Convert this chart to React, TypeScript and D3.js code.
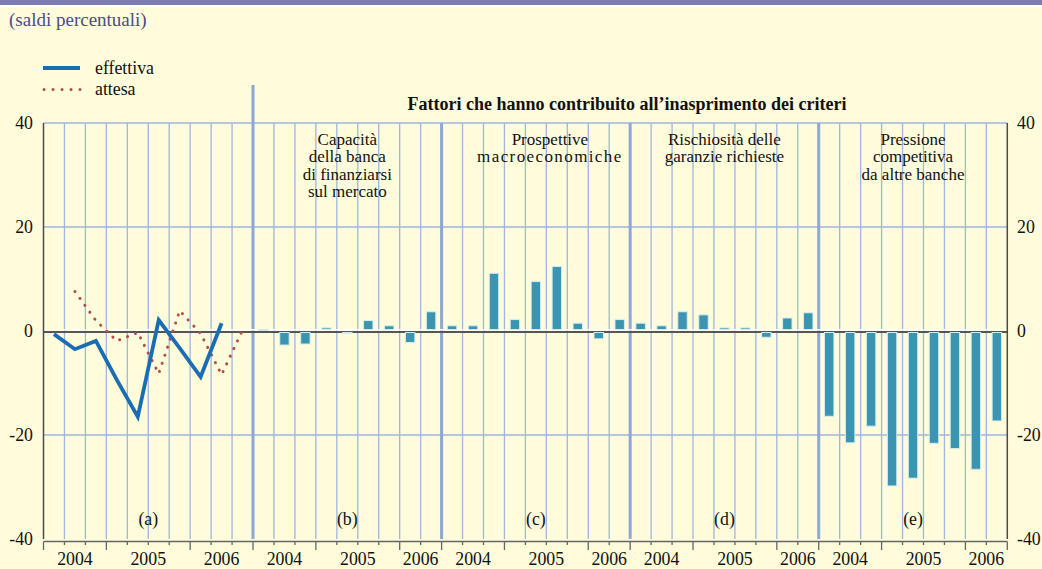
import React from 'react';
import * as d3 from 'd3';

// ---- data ----
const quartersA = ['2004-Q2', '2004-Q3', '2004-Q4', '2005-Q1', '2005-Q2', '2005-Q3', '2005-Q4', '2006-Q1', '2006-Q2', '2006-Q3'];
const quartersB = quartersA.slice(0, 9);
const effettiva = [-0.6, -3.5, -1.9, -9.4, -16.5, 2.1, -3.3, -8.8, 1.5]; // 2004-Q2 .. 2006-Q2
const attesa = [7.6, 2.0, -1.9, -0.3, -8.2, 3.9, -0.5, -8.4, 0.2]; // 2004-Q3 .. 2006-Q3
const capacita = [0.3, -2.7, -2.5, 0.6, -0.3, 2.0, 1.0, -2.2, 3.7];
const prospettive = [1.0, 1.0, 11.1, 2.2, 9.5, 12.4, 1.5, -1.5, 2.2];
const rischiosita = [1.5, 1.0, 3.7, 3.1, 0.6, 0.6, -1.2, 2.5, 3.5];
const pressione = [-16.4, -21.5, -18.3, -29.8, -28.3, -21.6, -22.6, -26.6, -17.3];
const yTicks = [40, 20, 0, -20, -40];
const panelTags = ['(a)', '(b)', '(c)', '(d)', '(e)'];
const panelTitles: string[][] = [
  [],
  ['Capacità', 'della banca', 'di finanziarsi', 'sul mercato'],
  ['Prospettive', 'macroeconomiche'],
  ['Rischiosità delle', 'garanzie richieste'],
  ['Pressione', 'competitiva', 'da altre banche'],
];
const barSeries = [capacita, prospettive, rischiosita, pressione];
const titleText = 'Fattori che hanno contribuito all\u2019inasprimento dei criteri';
const subtitle = '(saldi percentuali)';
const legendLabels = ['effettiva', 'attesa'];

// ---- styles ----
const W = 1042, H = 569;
const BG = '#fffcdb';
const GRID = '#9fb6de';
const SEP = '#8ea7d5';
const AXIS = '#4a4a4a';
const BAR = '#3c95b0';
const LINE = '#1a6db3';
const DOT = '#b24e48';
const FONT = '"Liberation Serif", "Times New Roman", serif';
const FS = 17.8;
const FS_PANEL = 17;
const wideLine = 'macroeconomiche';

const panelQuarters = [quartersA, quartersB, quartersB, quartersB, quartersB];
const panelStart: number[] = [];
{
  let acc = 0;
  panelQuarters.forEach((q) => { panelStart.push(acc); acc += q.length; });
}
const totalSlots = d3.sum(panelQuarters, (q) => q.length);

export default function App() {
  const x = d3.scaleLinear().domain([0, totalSlots]).range([43.5, 1007.3]);
  const y = d3.scaleLinear().domain([-40, 40]).range([539, 123]);
  const slotW = x(1) - x(0);
  const barW = slotW * 0.45;
  const cx = (i: number) => x(i + 0.5);

  const lineGen = d3.line<[number, number]>().x((d) => d[0]).y((d) => d[1]);
  const effPts: [number, number][] = effettiva.map((v, i) => [cx(i), y(v)]);
  const attPts: [number, number][] = attesa.map((v, i) => [cx(i + 1), y(v)]);

  const yearGroups = panelQuarters.map((qs, p) => {
    const groups = d3.groups(qs.map((q, i) => ({ q, i })), (d) => d.q.slice(0, 4));
    return groups.map(([yr, items]) => ({
      yr,
      s: panelStart[p] + items[0].i,
      e: panelStart[p] + items[items.length - 1].i + 1,
    }));
  });

  const y0 = y(0);

  return (
    <svg width={W} height={H} style={{ position: 'absolute', left: 0, top: 0, display: 'block' }} fontFamily={FONT}>
      <rect x={0} y={0} width={W} height={H} fill={BG} />
      <rect x={0} y={0} width={W} height={5} fill="#7d7db5" />
      <rect x={0} y={5} width={W} height={2} fill="#ffffff" />

      <text x={9} y={26} fontSize={19} fill="#4b4b8c">{subtitle}</text>

      {/* legend */}
      <line x1={43} x2={80} y1={68} y2={68} stroke={LINE} strokeWidth={3.8} />
      <text x={95} y={74} fontSize={FS} fill="#111">{legendLabels[0]}</text>
      <line x1={44} x2={80} y1={89.5} y2={89.5} stroke={DOT} strokeWidth={3} strokeLinecap="round" strokeDasharray="0.1 8.9" />
      <text x={95} y={94.5} fontSize={FS} fill="#111">{legendLabels[1]}</text>

      {/* title */}
      <text x={627} y={110} fontSize={18} fontWeight="bold" textAnchor="middle" fill="#111">{titleText}</text>

      {/* horizontal gridlines */}
      {yTicks.filter((t) => t !== 0 && t !== -40).map((t) => (
        <line key={t} x1={x(0)} x2={x(totalSlots)} y1={y(t)} y2={y(t)} stroke={GRID} strokeWidth={1.3} />
      ))}

      {/* vertical gridlines */}
      {d3.range(1, totalSlots).filter((i) => !panelStart.includes(i)).map((i) => (
        <line key={i} x1={x(i)} x2={x(i)} y1={y(40)} y2={y(-40)} stroke={GRID} strokeWidth={1.3} />
      ))}
      {panelStart.slice(1).map((s, k) => (
        <line key={'sep' + s} x1={x(s)} x2={x(s)} y1={k === 0 ? 85 : y(40)} y2={y(-40)} stroke={SEP} strokeWidth={3} />
      ))}

      {/* panel titles */}
      {panelTitles.map((lines, p) => {
        const pc = (x(panelStart[p]) + x(panelStart[p] + panelQuarters[p].length)) / 2 + (p === 2 ? 14 : 0);
        return lines.map((l, j) => (
          <text key={p + '-' + j} x={pc} y={145 + j * 17.3} fontSize={FS_PANEL} textAnchor="middle" fill="#111"
            letterSpacing={l === wideLine ? 1.4 : 0}>{l}</text>
        ));
      })}

      {/* panel tags */}
      {panelTags.map((t, p) => {
        const pc = (x(panelStart[p]) + x(panelStart[p] + panelQuarters[p].length)) / 2;
        return <text key={t} x={pc} y={525} fontSize={FS} textAnchor="middle" fill="#111">{t}</text>;
      })}

      {/* zero line */}
      <line x1={x(0)} x2={x(totalSlots)} y1={y0 - 1.2} y2={y0 - 1.2} stroke="#ffffff" strokeWidth={1.6} />
      <line x1={x(0)} x2={x(totalSlots)} y1={y0 + 1} y2={y0 + 1} stroke="#555" strokeWidth={1.8} />

      {/* bars */}
      {barSeries.map((series, k) => series.map((v, i) => {
        const slot = panelStart[k + 1] + i;
        const top = v >= 0 ? y(v) : y0 + 1.5;
        const h = v >= 0 ? y0 - 1.5 - y(v) : y(v) - (y0 + 1.5);
        return (
          <rect key={k + '-' + i} x={cx(slot) - barW / 2} y={top} width={barW} height={Math.max(h, 1)}
            fill={BAR} stroke="#d5ecef" strokeWidth={1} />
        );
      }))}

      {/* lines panel a */}
      <path d={lineGen(attPts) || ''} fill="none" stroke={DOT} strokeWidth={3} strokeLinecap="round" strokeDasharray="0.1 8.4" />
      <path d={lineGen(effPts) || ''} fill="none" stroke={LINE} strokeWidth={3.8} strokeLinejoin="miter" />

      {/* axes */}
      <line x1={x(0)} x2={x(0)} y1={y(40)} y2={y(-40)} stroke={AXIS} strokeWidth={1.5} />
      <line x1={x(totalSlots)} x2={x(totalSlots)} y1={y(40)} y2={y(-40)} stroke={AXIS} strokeWidth={1.5} />
      <line x1={x(0)} x2={x(totalSlots)} y1={541.5} y2={541.5} stroke="#666" strokeWidth={1.3} />
      {d3.range(0, totalSlots + 1).map((i) => {
        const isLong = panelStart.includes(i) || i === totalSlots || yearGroups.some((g) => g.some((gg) => gg.s === i));
        return <line key={'t' + i} x1={x(i)} x2={x(i)} y1={541.5} y2={isLong ? 550 : 545} stroke="#666" strokeWidth={1.3} />;
      })}
      {yTicks.map((t) => (
        <g key={'yl' + t}>
          <text x={33} y={y(t) + 6} fontSize={FS} textAnchor="end" fill="#111">{t}</text>
          <text x={1017} y={y(t) + 6} fontSize={FS} textAnchor="start" fill="#111">{t}</text>
        </g>
      ))}
      {yearGroups.flat().map((g, k) => (
        <text key={'yr' + k} x={(x(g.s) + x(g.e)) / 2} y={565} fontSize={FS} textAnchor="middle" fill="#111">{g.yr}</text>
      ))}
    </svg>
  );
}
